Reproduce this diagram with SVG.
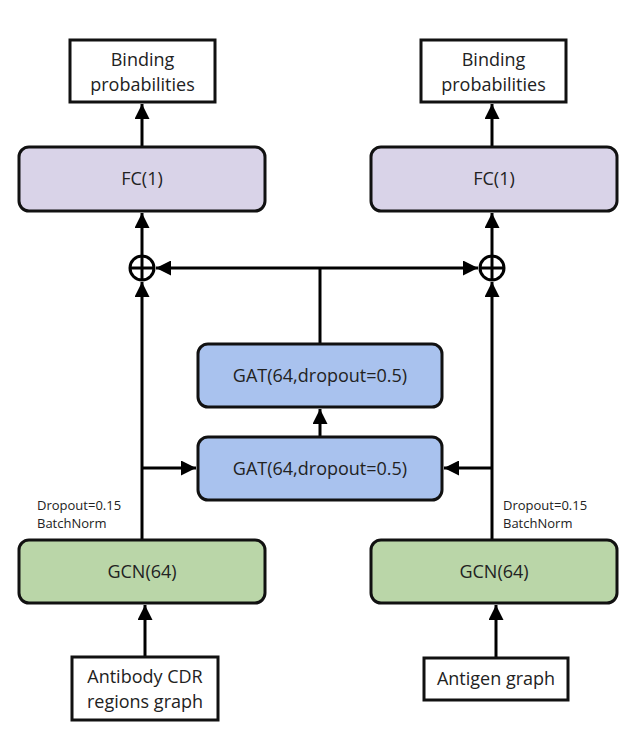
<svg xmlns="http://www.w3.org/2000/svg" width="633" height="747" viewBox="0 0 633 747">
<style>
text{font-family:"Open Sans","Liberation Sans",sans-serif;fill:#222;text-anchor:middle}
.t{font-size:18px}
.s{font-size:13px;text-anchor:start}
.box{fill:#fff;stroke:#111;stroke-width:3}
.fc{fill:#d9d3e8;stroke:#111;stroke-width:3}
.gat{fill:#a9c2ee;stroke:#111;stroke-width:3}
.gcn{fill:#bad6a8;stroke:#111;stroke-width:3}
.ln{stroke:#000;stroke-width:3;fill:none}
</style>
<defs>
<marker id="ah" viewBox="0 0 10 10" refX="10" refY="5" markerWidth="5" markerHeight="5" orient="auto" markerUnits="strokeWidth">
<path d="M0,0 L10,5 L0,10 z" fill="#000"/>
</marker>
</defs>
<g id="connectors">
<line class="ln" x1="142" y1="147" x2="142" y2="104" marker-end="url(#ah)"/>
<line class="ln" x1="492" y1="147" x2="492" y2="104" marker-end="url(#ah)"/>
<line class="ln" x1="142" y1="256" x2="142" y2="213" marker-end="url(#ah)"/>
<line class="ln" x1="492" y1="256" x2="492" y2="213" marker-end="url(#ah)"/>
<line class="ln" x1="320" y1="268" x2="156" y2="268" marker-end="url(#ah)"/>
<line class="ln" x1="320" y1="268" x2="478" y2="268" marker-end="url(#ah)"/>
<line class="ln" x1="320" y1="344" x2="320" y2="268"/>
<line class="ln" x1="320" y1="437" x2="320" y2="409" marker-end="url(#ah)"/>
<line class="ln" x1="142" y1="540" x2="142" y2="282" marker-end="url(#ah)"/>
<line class="ln" x1="492" y1="540" x2="492" y2="282" marker-end="url(#ah)"/>
<line class="ln" x1="142" y1="468" x2="196" y2="468" marker-end="url(#ah)"/>
<line class="ln" x1="492" y1="468" x2="444" y2="468" marker-end="url(#ah)"/>
<line class="ln" x1="145" y1="657" x2="145" y2="605" marker-end="url(#ah)"/>
<line class="ln" x1="496" y1="658" x2="496" y2="605" marker-end="url(#ah)"/>
</g>
<g id="sum-left">
<circle class="ln" cx="142" cy="268" r="12" fill="#fff"/>
<line class="ln" stroke-width="2" x1="130" y1="268" x2="154" y2="268"/>
<line class="ln" stroke-width="2" x1="142" y1="256" x2="142" y2="280"/>
</g>
<g id="sum-right">
<circle class="ln" cx="492" cy="268" r="12" fill="#fff"/>
<line class="ln" stroke-width="2" x1="480" y1="268" x2="504" y2="268"/>
<line class="ln" stroke-width="2" x1="492" y1="256" x2="492" y2="280"/>
</g>
<g id="bind-left">
<rect class="box" x="70" y="40" width="145" height="62"/>
<text class="t" x="142.5" y="66">Binding</text>
<text class="t" x="142.5" y="91">probabilities</text>
</g>
<g id="bind-right">
<rect class="box" x="421" y="40" width="145" height="62"/>
<text class="t" x="493.5" y="66">Binding</text>
<text class="t" x="493.5" y="91">probabilities</text>
</g>
<g id="fc-left">
<rect class="fc" x="19" y="147" width="246" height="64" rx="10"/>
<text class="t" x="142" y="185">FC(1)</text>
</g>
<g id="fc-right">
<rect class="fc" x="371" y="147" width="246" height="64" rx="10"/>
<text class="t" x="494" y="185">FC(1)</text>
</g>
<g id="gat-top">
<rect class="gat" x="198" y="344" width="244" height="63" rx="10"/>
<text class="t" x="320" y="382">GAT(64,dropout=0.5)</text>
</g>
<g id="gat-bottom">
<rect class="gat" x="198" y="437" width="244" height="63" rx="10"/>
<text class="t" x="320" y="475">GAT(64,dropout=0.5)</text>
</g>
<g id="gcn-left">
<rect class="gcn" x="19" y="540" width="246" height="63" rx="10"/>
<text class="t" x="142" y="578">GCN(64)</text>
<text class="s" x="37" y="510">Dropout=0.15</text>
<text class="s" x="37" y="528">BatchNorm</text>
</g>
<g id="gcn-right">
<rect class="gcn" x="371" y="540" width="246" height="63" rx="10"/>
<text class="t" x="494" y="578">GCN(64)</text>
<text class="s" x="503" y="510">Dropout=0.15</text>
<text class="s" x="503" y="528">BatchNorm</text>
</g>
<g id="antibody">
<rect class="box" x="72" y="657" width="146" height="63"/>
<text class="t" x="145" y="683">Antibody CDR</text>
<text class="t" x="145" y="708">regions graph</text>
</g>
<g id="antigen">
<rect class="box" x="424" y="658" width="144" height="42"/>
<text class="t" x="496" y="685">Antigen graph</text>
</g>
</svg>
